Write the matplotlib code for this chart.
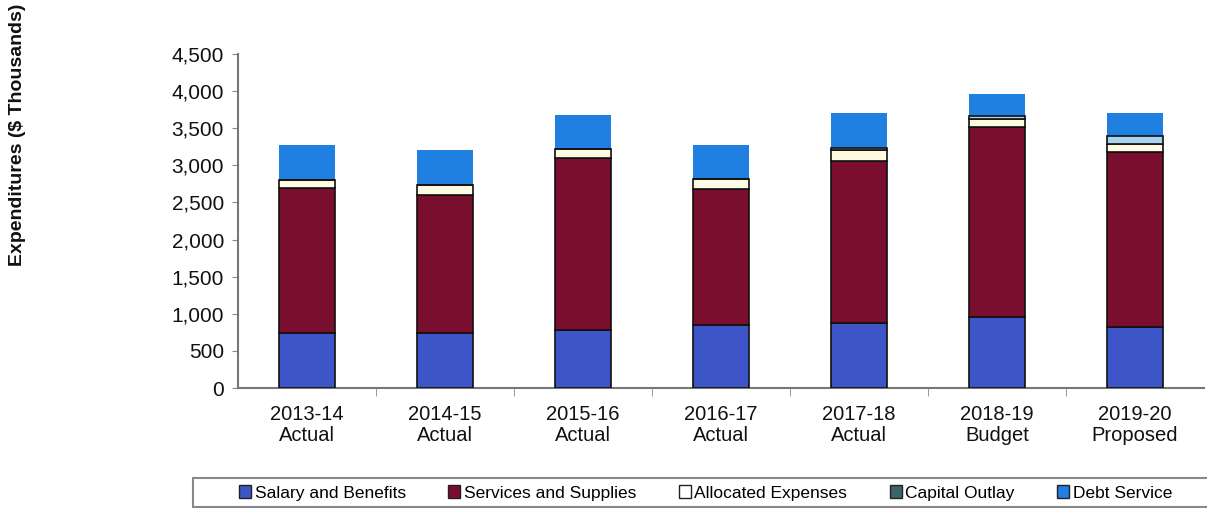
import numpy as np
import matplotlib.pyplot as plt
from matplotlib.patches import Patch, Rectangle

plt.rcParams['font.family'] = ['Liberation Sans', 'DejaVu Sans']

years = ['2013-14\nActual', '2014-15\nActual', '2015-16\nActual', '2016-17\nActual',
         '2017-18\nActual', '2018-19\nBudget', '2019-20\nProposed']

# expenditures by category, $ thousands
salary = [745, 745, 780, 850, 875, 955, 825]
services = [1945, 1855, 2320, 1830, 2185, 2565, 2355]
allocated = [110, 140, 120, 130, 140, 100, 110]
capital = [0, 0, 0, 0, 30, 50, 100]
debt = [470, 470, 460, 465, 480, 290, 310]

names = ['Salary and Benefits', 'Services and Supplies', 'Allocated Expenses',
         'Capital Outlay', 'Debt Service']
colors = ['#3d55c6', '#7a0e2e', '#fffbe2', '#a9d2ee', '#1f80e2']
legend_colors = ['#3d55c6', '#7a0e2e', '#ffffff', '#3c6468', '#1f80e2']

W, H = 1207, 508
fig = plt.figure(figsize=(W / 100, H / 100), dpi=100)
ax = fig.add_axes([238 / W, 1 - 388 / H, 966 / W, 334 / H])

x = np.arange(len(years))
bottom = np.zeros(len(years))
series = [salary, services, allocated, capital, debt]
for i, vals in enumerate(series):
    vals = np.array(vals, dtype=float)
    if i < 4:
        ax.bar(x, vals, 0.41, bottom=bottom, color=colors[i],
               edgecolor='#111111', linewidth=1.2, zorder=3)
    else:
        ax.bar(x, vals, 0.41, bottom=bottom, color=colors[i],
               linewidth=0, zorder=2)
    bottom += vals

ax.set_xlim(-0.5, len(years) - 0.5)
ax.set_ylim(0, 4500)
ax.set_yticks(np.arange(0, 4501, 500))
ax.set_yticklabels(['{:,}'.format(v) for v in range(0, 4501, 500)], fontsize=15,
                   color='#111111')
ax.set_xticks(x)
ax.set_xticklabels(years, fontsize=14.5, color='#111111', linespacing=1.15)
ax.set_xticks(np.arange(0.5, len(years) - 1, 1), minor=True)
ax.tick_params(axis='x', which='major', length=0, pad=12)
ax.tick_params(axis='x', which='minor', length=6, color='#888888', direction='out')
ax.tick_params(axis='y', length=4, color='#888888', pad=6)

for s in ['top', 'right']:
    ax.spines[s].set_visible(False)
for s in ['left', 'bottom']:
    ax.spines[s].set_color('#777777')
    ax.spines[s].set_linewidth(1.5)

fig.text(18 / W, 1 - 135 / H, 'Expenditures ($ Thousands)', rotation=90,
         ha='center', va='center', fontsize=14, fontweight='bold', color='#111111')

# legend box runs off the right edge
fig.patches.append(Rectangle((193 / W, 1 - 507 / H), 1030 / W, 29 / H,
                             transform=fig.transFigure, facecolor='white',
                             edgecolor='#888888', linewidth=1.5))
handles = [Patch(facecolor=c, edgecolor='#222222', linewidth=1) for c in legend_colors]
leg = fig.legend(handles, names, loc='center left', ncol=5,
                 bbox_to_anchor=(232 / W, 1 - 493 / H),
                 fontsize=12.5, frameon=False, handlelength=0.7,
                 handleheight=0.7, handletextpad=0.2, columnspacing=2.45,
                 borderaxespad=0)

fig.savefig('out.png', dpi=100)
